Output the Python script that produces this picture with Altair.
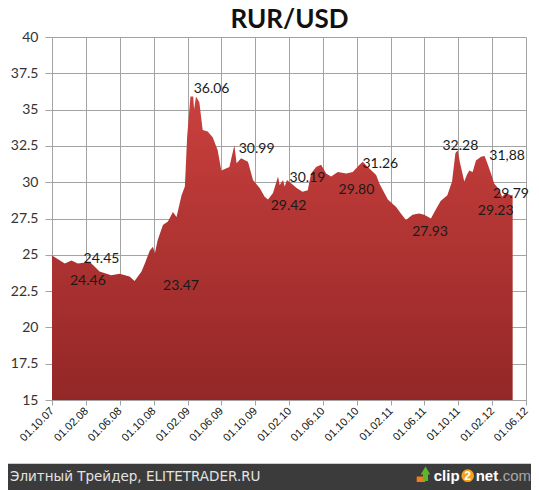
import altair as alt
import pandas as pd

# ---- data ----
dates = [
    "2007-10-01", "2007-11-16", "2007-12-10", "2008-01-02", "2008-02-14", "2008-03-02",
    "2008-03-20", "2008-05-01", "2008-05-31", "2008-07-06", "2008-07-24", "2008-08-18",
    "2008-08-30", "2008-09-17", "2008-09-28", "2008-10-05", "2008-10-15", "2008-11-03",
    "2008-11-21", "2008-12-09", "2008-12-22", "2009-01-09", "2009-01-21", "2009-01-29",
    "2009-02-10", "2009-02-20", "2009-02-23", "2009-03-02", "2009-03-14", "2009-03-26",
    "2009-04-13", "2009-05-01", "2009-05-19", "2009-06-01", "2009-06-30", "2009-07-18",
    "2009-07-26", "2009-08-11", "2009-09-05", "2009-09-23", "2009-10-17", "2009-11-04",
    "2009-11-16", "2009-12-04", "2009-12-22", "2009-12-28", "2010-01-09", "2010-01-15",
    "2010-01-23", "2010-02-09", "2010-02-27", "2010-03-20", "2010-04-08", "2010-04-20",
    "2010-05-08", "2010-05-26", "2010-06-13", "2010-07-01", "2010-07-25", "2010-08-24",
    "2010-09-17", "2010-10-11", "2010-10-23", "2010-11-10", "2010-12-10", "2010-12-22",
    "2011-01-21", "2011-02-20", "2011-03-09", "2011-03-27", "2011-04-20", "2011-05-13",
    "2011-06-01", "2011-06-25", "2011-07-12", "2011-07-30", "2011-08-23", "2011-09-09",
    "2011-09-21", "2011-09-29", "2011-10-08", "2011-10-23", "2011-11-01", "2011-11-10",
    "2011-11-22", "2011-12-04", "2011-12-22", "2012-01-04", "2012-01-14", "2012-01-27",
    "2012-02-08", "2012-02-26", "2012-03-07", "2012-03-20", "2012-04-08", "2012-04-14",
]
rates = [
    24.95, 24.40, 24.60, 24.40, 24.50, 24.20,
    23.85, 23.60, 23.70, 23.50, 23.20, 23.85,
    24.40, 25.30, 25.55, 25.10, 26.00, 27.05,
    27.30, 27.95, 27.60, 29.10, 29.70, 33.10,
    35.90, 35.90, 35.00, 35.90, 35.50, 33.60,
    33.50, 33.10, 32.20, 30.80, 31.05, 32.55,
    31.30, 31.65, 31.40, 30.15, 29.60, 29.00,
    28.80, 29.25, 30.40, 29.80, 30.15, 29.70,
    30.15, 29.90, 29.60, 29.35, 29.45, 30.60,
    31.05, 31.20, 30.60, 30.40, 30.70, 30.60,
    30.70, 31.20, 31.40, 31.05, 30.50, 29.90,
    28.80, 28.30, 27.85, 27.40, 27.75, 27.85,
    27.75, 27.50, 28.10, 28.70, 29.10, 30.05,
    32.00, 32.20, 31.30, 30.05, 30.50, 30.80,
    30.70, 31.50, 31.75, 31.80, 31.30, 30.60,
    29.90, 29.50, 29.00, 29.25, 29.10, 29.10,
]

label_texts = ["36.06", "30.99", "24.45", "24.46", "23.47", "30.19", "29.42",
               "29.80", "31.26", "27.93", "32.28", "31,88", "29.23", "29.79"]
label_dates = ["2009-04-27", "2009-10-06", "2008-03-27", "2008-02-07", "2009-01-07",
               "2010-04-07", "2010-01-29", "2010-09-30", "2010-12-25", "2011-06-22",
               "2011-10-09", "2012-03-25", "2012-02-13", "2012-04-08"]
label_values = [36.44, 32.30, 24.72, 23.21, 22.86, 30.30, 28.37,
                29.48, 31.27, 26.58, 32.51, 31.82, 28.03, 29.20]

tick_dates = [(2007, 10), (2008, 2), (2008, 6), (2008, 10), (2009, 2), (2009, 6),
              (2009, 10), (2010, 2), (2010, 6), (2010, 10), (2011, 2), (2011, 6),
              (2011, 10), (2012, 2), (2012, 6)]
y_ticks = [15, 17.5, 20, 22.5, 25, 27.5, 30, 32.5, 35, 37.5, 40]

title_text = "RUR/USD"
footer_text = "Элитный Трейдер, ELITETRADER.RU"

# ---- tables ----
series = pd.DataFrame({"date": dates, "rate": rates})
labels = pd.DataFrame({"date": label_dates, "rate": label_values, "text": label_texts})
one = pd.DataFrame({"k": [0]})

GRID = "#a3a3a3"
x_scale = alt.Scale(domain=[alt.DateTime(year=2007, month=10, date=1),
                            alt.DateTime(year=2012, month=6, date=1)], nice=False)
y_scale = alt.Scale(domain=[15, 40], zero=False, nice=False)

x_axis = alt.Axis(
    values=[alt.DateTime(year=y, month=m, date=1) for y, m in tick_dates],
    format="%d.%m.%y", labelAngle=-45, labelAlign="right", labelBaseline="middle",
    labelFont="Liberation Sans", labelFontSize=11, labelColor="#111",
    labelPadding=4, tickSize=5, tickColor=GRID, domainColor=GRID,
    gridColor=GRID, gridOpacity=1, title=None, labelOverlap=False,
    labelSeparation=0, labelBound=False, labelFlush=False,
)
y_axis = alt.Axis(
    values=y_ticks, format=".1~f", labelFont="Lato", labelFontSize=14,
    labelColor="#333", labelPadding=7, tickSize=7, tickColor=GRID,
    domainColor=GRID, gridColor=GRID, gridOpacity=1, title=None,
)

area = alt.Chart(series).mark_area(
    color=alt.Gradient(
        gradient="linear",
        stops=[alt.GradientStop(color="#c9403d", offset=0),
               alt.GradientStop(color="#932727", offset=1)],
        x1=0, x2=0, y1=0, y2=1,
    ),
).encode(
    x=alt.X("date:T", scale=x_scale, axis=x_axis),
    y=alt.Y("rate:Q", scale=y_scale, axis=y_axis),
    y2=alt.datum(15),
)

text = alt.Chart(labels).mark_text(
    font="Lato", fontSize=14, color="#1a1a1a", align="center", baseline="middle"
).encode(
    x=alt.X("date:T", scale=x_scale, axis=x_axis),
    y=alt.Y("rate:Q", scale=y_scale, axis=y_axis),
    text="text:N",
)

# chart title (drawn as text so it sits fully inside the view)
title = alt.Chart(one).mark_text(
    text=title_text, font="Lato", fontSize=26, fontWeight="bold", color="#111",
    align="center", baseline="alphabetic"
).encode(x=alt.value(237.5), y=alt.value(-9.3))

# footer banner (decoration)
banner = alt.Chart(one).mark_rect(color="#3b3b3b").encode(
    x=alt.value(-60), x2=alt.value(500), y=alt.value(426.7), y2=alt.value(470)
)
footer = alt.Chart(one).mark_text(
    text=footer_text, font="DejaVu Sans", fontSize=13.5, color="#e4e4e4",
    align="left", baseline="middle"
).encode(x=alt.value(-42), y=alt.value(440))

arrow_base = alt.Chart(one).mark_rect(color="#f07d1a").encode(
    x=alt.value(364.7), x2=alt.value(373), y=alt.value(439.5), y2=alt.value(445)
)
arrow_shaft = alt.Chart(one).mark_rect(color="#5fb52c").encode(
    x=alt.value(371), x2=alt.value(376), y=alt.value(435), y2=alt.value(444)
)
arrow_head = alt.Chart(one).mark_point(
    shape="triangle-up", filled=True, color="#5fb52c", opacity=1, size=90
).encode(x=alt.value(373.5), y=alt.value(433.5))
logo_clip = alt.Chart(one).mark_text(
    text="clip", font="Liberation Sans", fontWeight="bold", fontSize=15,
    color="#ffffff", align="left", baseline="middle"
).encode(x=alt.value(381.7), y=alt.value(438.7))
logo_circle = alt.Chart(one).mark_point(
    shape="circle", filled=True, color="#f5a21f", opacity=1, size=160
).encode(x=alt.value(415.7), y=alt.value(438.7))
logo_two = alt.Chart(one).mark_text(
    text="2", font="Liberation Sans", fontWeight="bold", fontSize=12,
    color="#ffffff", align="center", baseline="middle"
).encode(x=alt.value(415.7), y=alt.value(439))
logo_net = alt.Chart(one).mark_text(
    text="net", font="Liberation Sans", fontWeight="bold", fontSize=15,
    color="#ffffff", align="left", baseline="middle"
).encode(x=alt.value(423.7), y=alt.value(438.7))
logo_com = alt.Chart(one).mark_text(
    text=".com", font="Liberation Sans", fontSize=15,
    color="#a8a8a8", align="left", baseline="middle"
).encode(x=alt.value(446.5), y=alt.value(438.7))

chart = alt.layer(
    area, text, title, banner, footer, arrow_base, arrow_shaft, arrow_head,
    logo_clip, logo_circle, logo_two, logo_net, logo_com,
).properties(
    width=474, height=363,
    autosize=alt.AutoSizeParams(type="none"),
    padding={"left": 44, "top": 29, "right": 5, "bottom": 90},
).configure_view(strokeWidth=0).configure_axis(labelOverlap=False)

chart.save("out.html", embed_options={"renderer": "svg", "actions": False})
